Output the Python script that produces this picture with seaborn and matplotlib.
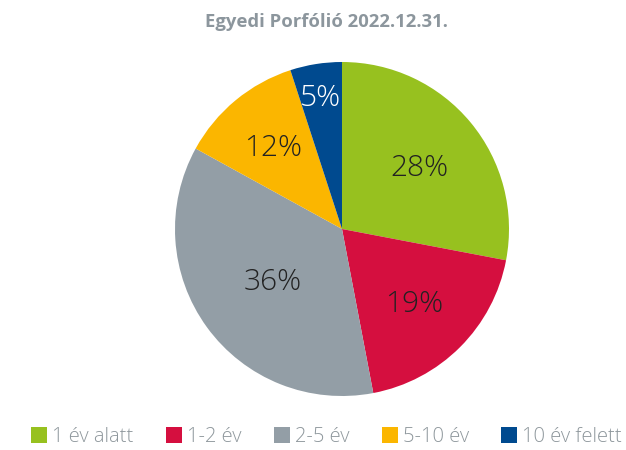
import matplotlib.pyplot as plt
import seaborn as sns
import numpy as np
from matplotlib.patches import Patch

categories = ["1 év alatt", "1-2 év", "2-5 év", "5-10 év", "10 év felett"]
shares = [28, 19, 36, 12, 5]
colors = ["#97c11f", "#d50f3f", "#939ea6", "#fbb600", "#004a8f"]
label_colors = ["#222222", "#222222", "#222222", "#222222", "#ffffff"]
label_dist = [0.6, 0.61, 0.51, 0.65, 0.81]

sns.set_theme(style="white")
plt.rcParams["font.family"] = ["Open Sans", "DejaVu Sans"]

fig = plt.figure(figsize=(6.26, 4.5), dpi=100)
ax = fig.add_axes([175 / 626, (450 - 229 - 167) / 450, 334 / 626, 334 / 450])

wedges, _ = ax.pie(shares, colors=colors, startangle=90, counterclock=False,
                   radius=1.0, wedgeprops=dict(linewidth=0))
ax.set_xlim(-1, 1)
ax.set_ylim(-1, 1)
ax.set_aspect("equal")
ax.axis("off")

for w, v, c, d in zip(wedges, shares, label_colors, label_dist):
    mid = np.deg2rad((w.theta1 + w.theta2) / 2)
    ax.text(d * np.cos(mid), d * np.sin(mid) - 0.02, f"{v}%", ha="center", va="center",
            fontsize=21.5, color=c, fontweight="light")

fig.text(0.522, 0.952, "Egyedi Porfólió 2022.12.31.", ha="center", va="center",
         fontsize=13.3, fontweight="bold", color="#8c969d")

handles = [Patch(facecolor=c, edgecolor="none") for c in colors]
fig.legend(handles, categories, loc="center", bbox_to_anchor=(0.5216, 0.029),
           ncol=5, frameon=False, labelcolor="#8e979c",
           prop=dict(size=14.5, weight="light"),
           handlelength=0.8, handleheight=0.8, handletextpad=0.25, columnspacing=1.6,
           borderpad=0)

plt.savefig("out.png", dpi=100)
plt.close()
